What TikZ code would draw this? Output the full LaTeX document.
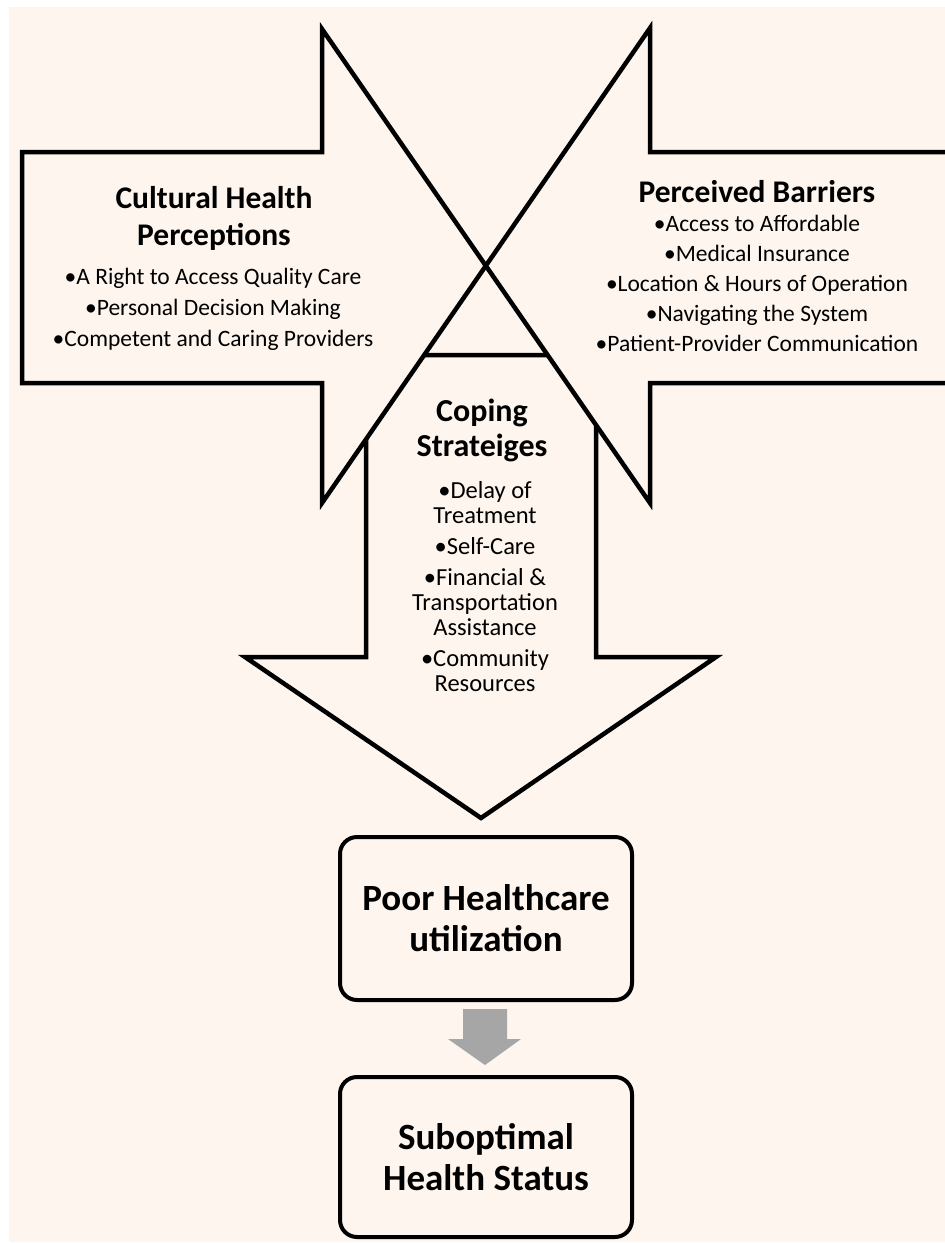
\documentclass[tikz,border=0pt]{standalone}
\usepackage{fontspec}
\setmainfont{Carlito}
\usetikzlibrary{calc}
\definecolor{cream}{RGB}{253,245,238}
\definecolor{arrowgray}{RGB}{166,166,166}

\begin{document}
\begin{tikzpicture}[x=1pt,y=-1pt,
  shapefill/.style={fill=cream},
  outline/.style={draw=black, line width=4.5pt, line join=miter},
  heading/.style={font=\fontsize{31.5}{37}\selectfont\bfseries, align=center, inner sep=0pt},
  bullets/.style={font=\fontsize{23.5}{31}\selectfont, align=center, inner sep=0pt},
  copingtext/.style={font=\fontsize{24.5}{25}\selectfont, align=center, inner sep=0pt},
  outcome/.style={draw=black, line width=4pt, fill=cream, rounded corners=17pt,
    minimum width=292pt, align=center, inner sep=0pt,
    font=\fontsize{37}{41}\selectfont\bfseries}
]
% page and background
\clip (0,0) rectangle (945,1243);
\fill[white] (0,0) rectangle (945,1243);
\fill[cream] (9,7) rectangle (945,1242);

% downward arrow (drawn first, partly covered by the side arrows)
\draw[outline, shapefill] (366,355) -- (596,355) -- (596,657) -- (716,657)
  -- (481,818) -- (245,657) -- (366,657) -- cycle;

% side arrows: fills
\fill[cream] (22,152) -- (322,152) -- (322,29) -- (486,266) -- (322,503)
  -- (322,383) -- (22,383) -- cycle;
\fill[cream] (960,152) -- (650,152) -- (650,28) -- (486,266) -- (650,503)
  -- (650,383) -- (960,383) -- cycle;
% side arrows: one outline whose heads cross as an X
\draw[outline] (22,152) -- (322,152) -- (322,29) -- (650,503) -- (650,383)
  -- (960,383) -- (960,152) -- (650,152) -- (650,28) -- (322,503)
  -- (322,383) -- (22,383) -- cycle;

% texts inside the arrows
\node[heading] (cultT) at (214,218.5) {Cultural Health\\Perceptions};
\node[bullets] (cultL) at (213,309) {•A Right to Access Quality Care\\•Personal Decision Making\\•Competent and Caring Providers};

\node[heading] (barrT) at (757,192) {Perceived Barriers};
\node[bullets, font=\fontsize{23.5}{30}\selectfont] (barrL) at (757,283) {•Access to Affordable\\•Medical Insurance\\•Location \& Hours of Operation\\•Navigating the System\\•Patient-Provider Communication};

\node[heading, font=\fontsize{32}{35}\selectfont\bfseries] (copeT) at (482,430.5) {Coping\\Strateiges};
\node[copingtext] (copeL) at (485,586.5) {•Delay of\\Treatment\\[6pt]•Self-Care\\[6pt]•Financial \&\\Transportation\\Assistance\\[6pt]•Community\\Resources};

% outcome boxes
\node[outcome, minimum height=163pt] (poor) at (486,918.5) {Poor Healthcare\\utilization};
\node[outcome, minimum height=160pt] (subopt) at (486,1157) {Suboptimal\\Health Status};

% grey block arrow between the boxes
\fill[arrowgray] ($(poor.south)+(-23,7)$) -- ($(poor.south)+(21,7)$)
  -- ($(poor.south)+(21,37)$) -- ($(poor.south)+(35,37)$)
  -- ($(subopt.north)+(-1,-10)$) -- ($(poor.south)+(-38,37)$)
  -- ($(poor.south)+(-23,37)$) -- cycle;
\end{tikzpicture}
\end{document}
